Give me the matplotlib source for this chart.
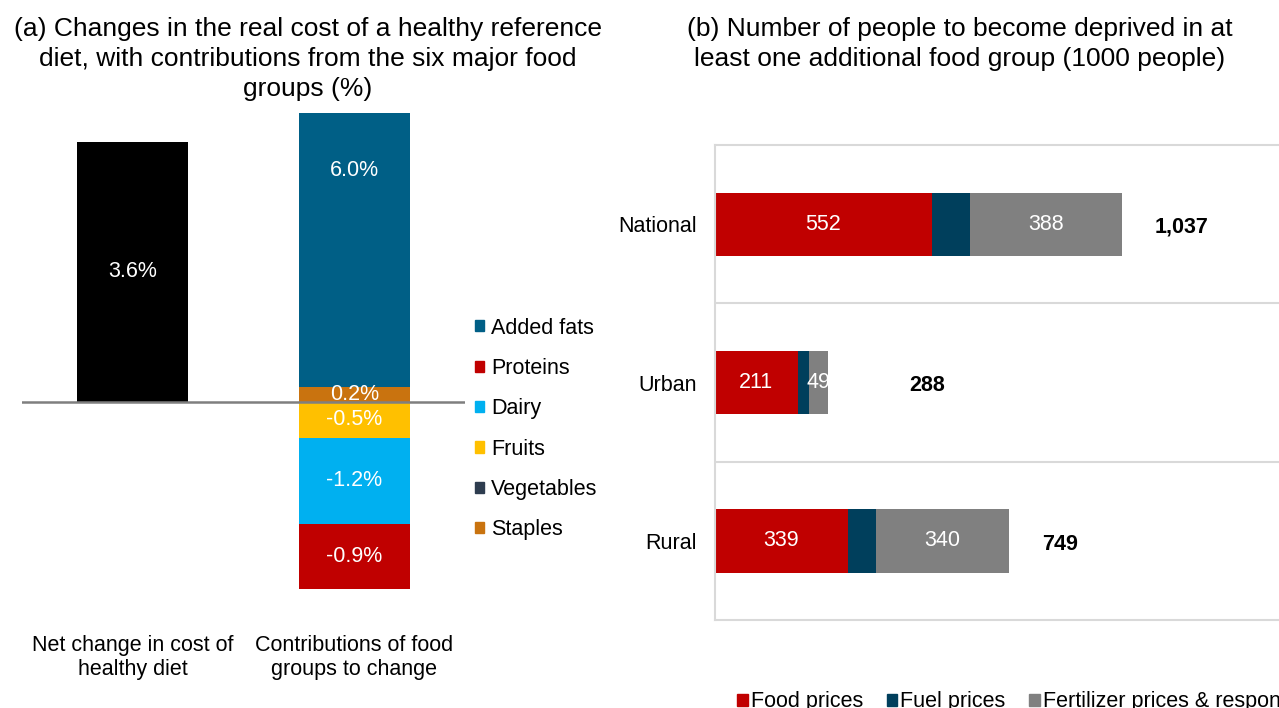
import numpy as np
import matplotlib.pyplot as plt
from matplotlib.patches import Patch

plt.rcParams['font.family'] = ['Liberation Sans', 'DejaVu Sans']

# panel (a): change in cost of a healthy diet, % and food group contributions
net_change = 3.6
groups = ["Staples", "Vegetables", "Fruits", "Dairy", "Proteins", "Added fats"]
contrib = [0.2, 0.0, -0.5, -1.2, -0.9, 6.0]
group_colors = ["#C9730F", "#2E3D4F", "#FFC000", "#00B0F0", "#C00000", "#005F86"]
cat_labels = ["Net change in cost of\nhealthy diet", "Contributions of food\ngroups to change"]

# panel (b): people newly deprived (1000 people)
areas = ["National", "Urban", "Rural"]
food_prices = [552, 211, 339]
fuel_prices = [97, 28, 70]
fert_prices = [388, 49, 340]
totals = [1037, 288, 749]
drivers = ["Food prices", "Fuel prices", "Fertilizer prices & response"]
driver_colors = ["#C00000", "#003F5C", "#808080"]

FS = 15.5
W, H = 1279, 708
fig = plt.figure(figsize=(W / 100, H / 100), dpi=100)

def box(l, t, r, b):
    return [l / W, 1 - b / H, (r - l) / W, (b - t) / H]

# ---- left panel
ax = fig.add_axes(box(22, 113, 465, 618))
ax.bar(0, net_change, width=0.5, color="black")
ax.text(0, net_change / 2, f"{net_change:.1f}%", color="white", ha="center", va="center", fontsize=FS)
pos, neg = 0.0, 0.0
for g, v, c in zip(groups, contrib, group_colors):
    if v >= 0:
        base = pos
        pos += v
    else:
        base = neg
        neg += v
    ax.bar(1, v, bottom=base, width=0.5, color=c)
    if v != 0:
        ax.text(1, base + v / 2, f"{v:.1f}%", color="white", ha="center", va="center", fontsize=FS)
ax.axhline(0, color="#7F7F7F", lw=1.8, zorder=5)
ax.set_xlim(-0.5, 1.5)
ax.set_ylim(-3.0, 4.0)
for s in ax.spines.values():
    s.set_visible(False)
ax.set_yticks([])
ax.set_xticks([0, 1])
ax.set_xticklabels(cat_labels, fontsize=FS, linespacing=1.2)
ax.tick_params(axis="x", length=0, pad=12)

handles = [Patch(color=c, label=g) for g, c in zip(groups, group_colors)][::-1]
fig.legend(handles=handles, loc="center left", bbox_to_anchor=(456 / W, 1 - 429 / H),
           frameon=False, fontsize=FS, handlelength=0.42, handleheight=0.42,
           handletextpad=0.3, labelspacing=0.9)

fig.text(308 / W, 1 - 17 / H,
         "(a) Changes in the real cost of a healthy reference\ndiet, with contributions from the six major food\ngroups (%)",
         ha="center", va="top", fontsize=19, linespacing=1.31)

# ---- right panel
bx = fig.add_axes(box(715, 145, 1310, 620))
y = np.arange(len(areas))
left = np.zeros(len(areas))
for vals, c in zip([food_prices, fuel_prices, fert_prices], driver_colors):
    bx.barh(y, vals, left=left, height=0.4, color=c)
    left += np.array(vals)
for i in range(len(areas)):
    bx.text(food_prices[i] / 2, i, str(food_prices[i]), color="white", ha="center", va="center", fontsize=FS)
    fx = food_prices[i] + fuel_prices[i] + fert_prices[i] / 2
    bx.text(fx, i, str(fert_prices[i]), color="white", ha="center", va="center", fontsize=FS)
label_offsets = [84, 206, 84]
for i, t in enumerate(totals):
    bx.text(t + label_offsets[i], i + 0.02, f"{t:,}", ha="left", va="center", fontsize=FS, fontweight="bold")
for yy in [0.5, 1.5]:
    bx.axhline(yy, color="#D9D9D9", lw=1.5)
bx.set_ylim(2.5, -0.5)
bx.set_xlim(0, 595 / 0.3925)
bx.set_xticks([])
bx.set_yticks(y)
bx.set_yticklabels(areas, fontsize=FS)
bx.tick_params(axis="y", length=0, pad=13)
for k in ["left", "top", "bottom"]:
    bx.spines[k].set_color("#D9D9D9")
    bx.spines[k].set_linewidth(1.5)
bx.spines["right"].set_visible(False)

dh = [Patch(color=c, label=d) for d, c in zip(drivers, driver_colors)]
fig.legend(handles=dh, loc="center left", bbox_to_anchor=(718 / W, 1 - 702 / H), ncol=3,
           frameon=False, fontsize=FS, handlelength=0.48, handleheight=0.48,
           handletextpad=0.15, columnspacing=1.1)

fig.text(960 / W, 1 - 17 / H,
         "(b) Number of people to become deprived in at\nleast one additional food group (1000 people)",
         ha="center", va="top", fontsize=19, linespacing=1.31)

fig.savefig("out.png", dpi=100)
